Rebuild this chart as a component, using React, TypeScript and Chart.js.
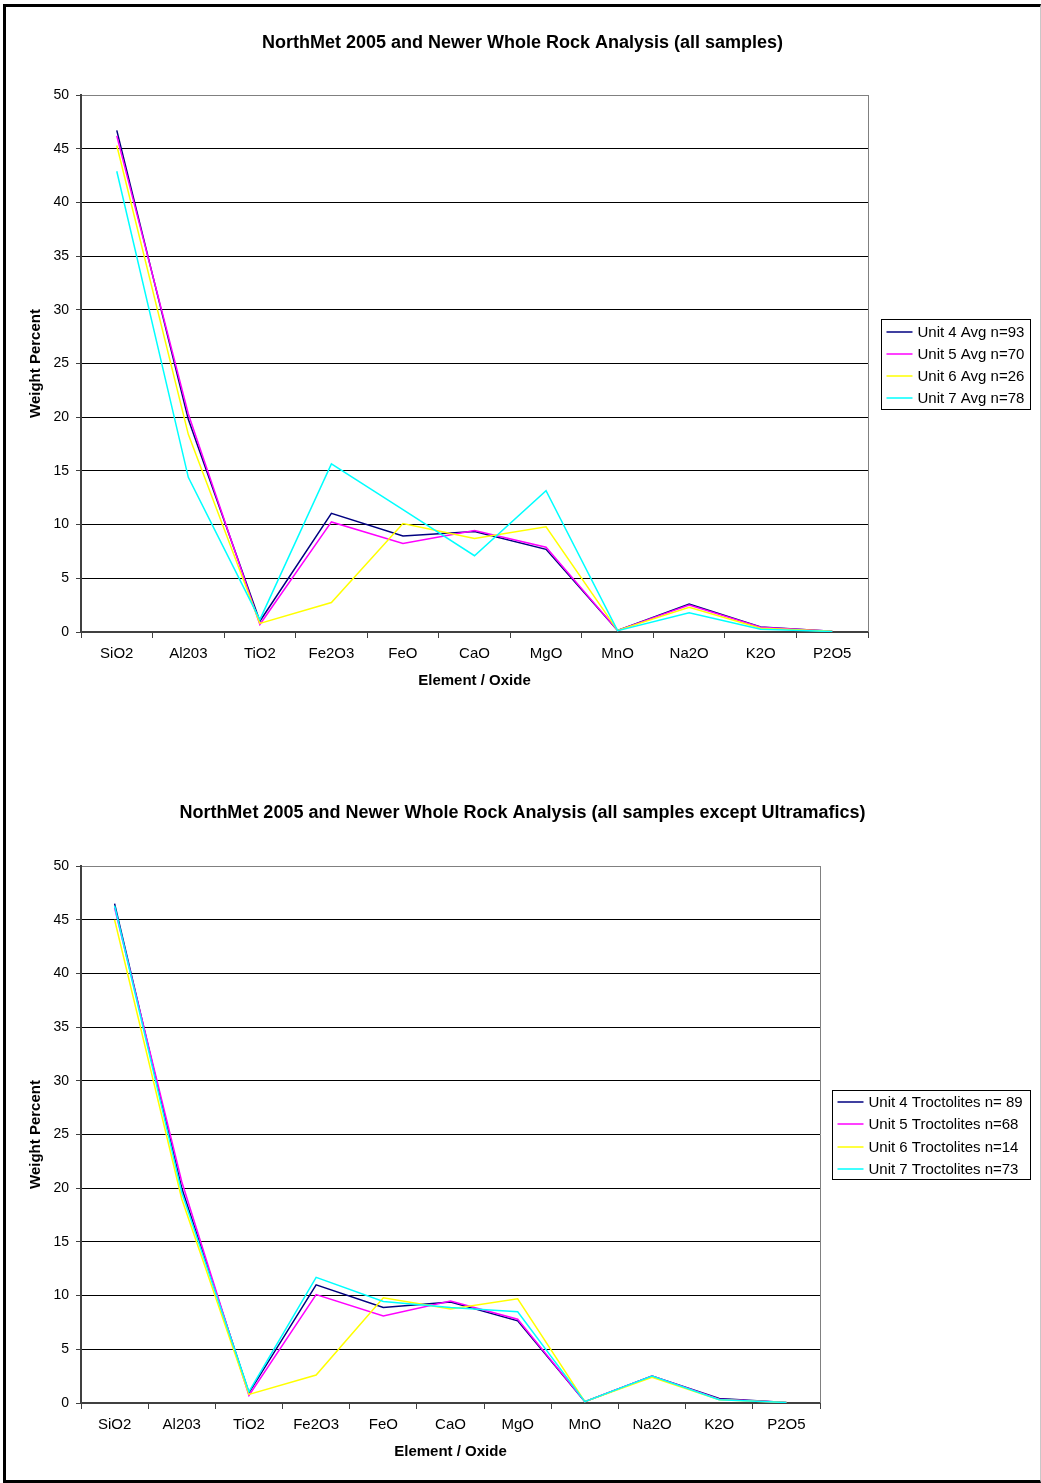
import React, { useEffect, useRef } from 'react';
import { Chart, registerables } from 'chart.js';

Chart.register(...registerables);

const FONT = "'Liberation Sans', Arial, Helvetica, sans-serif";

// ---- Data ----
const categories = ['SiO2', 'Al203', 'TiO2', 'Fe2O3', 'FeO', 'CaO', 'MgO', 'MnO', 'Na2O', 'K2O', 'P2O5'];

const title1 = 'NorthMet 2005 and Newer Whole Rock Analysis (all samples)';
const title2 = 'NorthMet 2005 and Newer Whole Rock Analysis (all samples except Ultramafics)';
const yAxisTitle = 'Weight Percent';
const xAxisTitle = 'Element / Oxide';

const chart1Labels = ['Unit 4 Avg n=93', 'Unit 5 Avg n=70', 'Unit 6 Avg n=26', 'Unit 7 Avg n=78'];
const unit4Avg = [46.7, 19.8, 1.0, 11.05, 8.95, 9.35, 7.7, 0.15, 2.6, 0.47, 0.07];
const unit5Avg = [46.2, 20.3, 0.7, 10.25, 8.25, 9.45, 7.9, 0.15, 2.5, 0.45, 0.07];
const unit6Avg = [45.3, 18.4, 0.8, 2.75, 10.1, 8.7, 9.8, 0.15, 2.3, 0.35, 0.07];
const unit7Avg = [42.9, 14.4, 1.15, 15.65, 11.4, 7.1, 13.15, 0.12, 1.8, 0.25, 0.05];

const chart2Labels = ['Unit 4 Troctolites n= 89', 'Unit 5 Troctolites n=68', 'Unit 6 Troctolites n=14', 'Unit 7 Troctolites n=73'];
const unit4Troct = [46.5, 20.0, 0.95, 11.0, 8.9, 9.4, 7.65, 0.12, 2.5, 0.42, 0.05];
const unit5Troct = [46.1, 20.6, 0.7, 10.1, 8.1, 9.5, 7.8, 0.12, 2.5, 0.35, 0.05];
const unit6Troct = [45.0, 19.0, 0.8, 2.6, 9.8, 8.75, 9.7, 0.12, 2.4, 0.3, 0.05];
const unit7Troct = [46.3, 19.6, 1.05, 11.7, 9.45, 8.9, 8.5, 0.12, 2.5, 0.3, 0.05];

const seriesColors = ['#000080', '#FF00FF', '#FFFF00', '#00FFFF'];
const yMin = 0;
const yMax = 50;
const yStep = 5;

// ---- Plugins ----
const boxLegendPlugin = {
  id: 'boxLegend',
  afterDraw(chart: any, _args: any, opts: any) {
    const { ctx, chartArea } = chart;
    const left = Math.round(chartArea.right) + opts.gap + 0.5;
    const right = opts.right + 0.5;
    const h = opts.height;
    const top = Math.round((chartArea.top + chartArea.bottom) / 2 - h / 2) + 0.5;
    ctx.save();
    ctx.fillStyle = '#ffffff';
    ctx.fillRect(left, top, right - left, h);
    ctx.strokeStyle = '#000000';
    ctx.lineWidth = 1;
    ctx.strokeRect(left, top, right - left, h);
    ctx.font = `15px ${FONT}`;
    ctx.textBaseline = 'middle';
    ctx.textAlign = 'left';
    chart.data.datasets.forEach((ds: any, i: number) => {
      const y = Math.round(top + opts.rows[i]);
      ctx.strokeStyle = ds.borderColor;
      ctx.lineWidth = 1.5;
      ctx.beginPath();
      ctx.moveTo(left + 5, y);
      ctx.lineTo(left + 31, y);
      ctx.stroke();
      ctx.fillStyle = '#000000';
      ctx.fillText(ds.label, left + 36, y + 1);
    });
    ctx.restore();
  },
};

const plotBorderPlugin = {
  id: 'plotBorder',
  beforeDatasetsDraw(chart: any) {
    const { ctx, chartArea } = chart;
    ctx.save();
    ctx.strokeStyle = '#808080';
    ctx.lineWidth = 1;
    const x = Math.round(chartArea.right) + 0.5;
    ctx.beginPath();
    ctx.moveTo(x, chartArea.top);
    ctx.lineTo(x, chartArea.bottom);
    ctx.stroke();
    ctx.restore();
  },
};

function buildConfig(p: {
  title: string;
  labels: string[];
  series: number[][];
  rightWidth: number;
  titlePadTop: number;
  titlePadBottom: number;
  padBottom: number;
  legendRows: number[];
  legendHeight: number;
  legendGap: number;
}) {
  return {
    type: 'line',
    data: {
      labels: categories,
      datasets: p.series.map((vals, i) => ({
        label: p.labels[i],
        data: vals,
        borderColor: seriesColors[i],
        backgroundColor: seriesColors[i],
        borderWidth: 1.5,
        pointRadius: 0,
        tension: 0,
        fill: false,
        order: p.series.length - i,
      })),
    },
    plugins: [plotBorderPlugin, boxLegendPlugin],
    options: {
      responsive: false,
      animation: false,
      events: [],
      layout: { padding: { left: 4, right: 0, top: 0, bottom: p.padBottom } },
      plugins: {
        legend: { display: false },
        tooltip: { enabled: false },
        title: {
          display: true,
          text: p.title,
          color: '#000000',
          font: { family: FONT, size: 18, weight: 'bold' },
          padding: { top: p.titlePadTop, bottom: p.titlePadBottom },
        },
        boxLegend: {
          gap: p.legendGap,
          right: 1030,
          height: p.legendHeight,
          rows: p.legendRows,
        },
      },
      scales: {
        x: {
          type: 'category',
          offset: true,
          grid: {
            offset: true,
            drawOnChartArea: false,
            drawTicks: true,
            tickLength: 6,
            color: '#404040',
            tickColor: '#404040',
          },
          border: { display: true, color: '#404040', width: 2 },
          ticks: {
            autoSkip: false,
            maxRotation: 0,
            minRotation: 0,
            padding: 7,
            color: '#000000',
            font: { family: FONT, size: 15 },
          },
          title: {
            display: true,
            text: xAxisTitle,
            color: '#000000',
            font: { family: FONT, size: 15, weight: 'bold' },
            padding: { top: 0, bottom: 12 },
          },
          afterFit(s: any) {
            s.height = 70;
          },
        },
        y: {
          type: 'linear',
          position: 'left',
          min: yMin,
          max: yMax,
          grid: {
            drawTicks: true,
            tickLength: 5,
            lineWidth: 1,
            color: (c: any) => (c.tick && c.tick.value === yMax ? '#808080' : '#000000'),
            tickColor: '#404040',
          },
          border: { display: true, color: '#404040', width: 2 },
          ticks: {
            stepSize: yStep,
            padding: 7,
            color: '#000000',
            font: { family: FONT, size: 14 },
          },
          title: {
            display: true,
            text: yAxisTitle,
            color: '#000000',
            font: { family: FONT, size: 15, weight: 'bold' },
            padding: { top: 23, bottom: 0 },
          },
          afterFit(s: any) {
            s.width = 77;
          },
        },
        yRight: {
          type: 'linear',
          position: 'right',
          display: true,
          min: 0,
          max: 1,
          grid: { display: false, drawOnChartArea: false, drawTicks: false },
          border: { display: false },
          ticks: { display: false },
          afterFit(s: any) {
            s.width = p.rightWidth;
          },
        },
      },
    },
  };
}

function LineChart(props: { config: any; width: number; height: number; top: number }) {
  const ref = useRef<HTMLCanvasElement | null>(null);
  useEffect(() => {
    if (!ref.current) return;
    const chart = new Chart(ref.current, props.config);
    return () => chart.destroy();
  }, []);
  return (
    <canvas
      ref={ref}
      width={props.width}
      height={props.height}
      style={{ position: 'absolute', left: 0, top: props.top, display: 'block' }}
    />
  );
}

export default function App() {
  const config1 = buildConfig({
    title: title1,
    labels: chart1Labels,
    series: [unit4Avg, unit5Avg, unit6Avg, unit7Avg],
    rightWidth: 1041 - 868,
    titlePadTop: 32,
    titlePadBottom: 41.4,
    padBottom: 43,
    legendRows: [12, 34, 56, 78],
    legendHeight: 90,
    legendGap: 13,
  });
  const config2 = buildConfig({
    title: title2,
    labels: chart2Labels,
    series: [unit4Troct, unit5Troct, unit6Troct, unit7Troct],
    rightWidth: 1041 - 820,
    titlePadTop: 57,
    titlePadBottom: 42.4,
    padBottom: 10,
    legendRows: [11, 33, 56, 78],
    legendHeight: 89,
    legendGap: 12,
  });
  return (
    <div style={{ position: 'absolute', left: 0, top: 0, width: 1041, height: 1483, background: '#ffffff', overflow: 'hidden' }}>
      <LineChart config={config1} width={1041} height={745} top={0} />
      <LineChart config={config2} width={1041} height={738} top={745} />
      <div
        style={{
          position: 'absolute',
          left: 3,
          top: 4,
          width: 1038,
          height: 1479,
          boxSizing: 'border-box',
          borderLeft: '3px solid #000',
          borderTop: '3px solid #000',
          borderBottom: '3px solid #000',
          borderRight: '1px solid #c8c8c8',
          pointerEvents: 'none',
        }}
      />
    </div>
  );
}
